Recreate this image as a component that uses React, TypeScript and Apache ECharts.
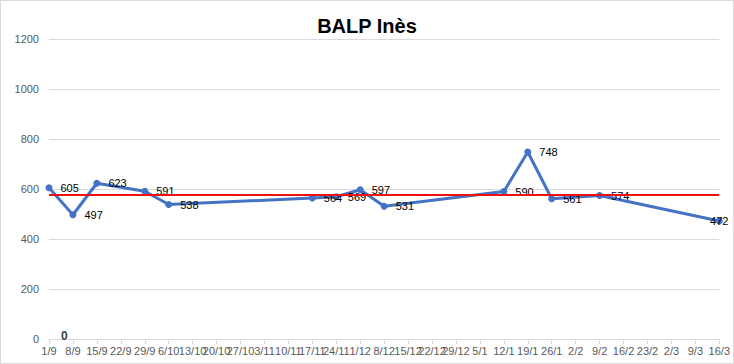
import React, { useEffect, useRef } from "react";
import * as echarts from "echarts";

const categories = ["1/9", "8/9", "15/9", "22/9", "29/9", "6/10", "13/10", "20/10", "27/10", "3/11", "10/11", "17/11", "24/11", "1/12", "8/12", "15/12", "22/12", "29/12", "5/1", "12/1", "19/1", "26/1", "2/2", "9/2", "16/2", "23/2", "2/3", "9/3", "16/3"];
const scores: (number | null)[] = [605, 497, 623, null, 591, 538, null, null, null, null, null, 564, 569, 597, 531, null, null, null, null, 590, 748, 561, null, 574, null, null, null, null, 472];
const zeroPoint = [[0, 0]];
const yTicks = { min: 0, max: 1200, interval: 200 };

export default function App() {
  const ref = useRef<HTMLDivElement>(null);
  useEffect(() => {
    if (!ref.current) return;
    const chart = echarts.init(ref.current, null, { renderer: "svg" });
    const font = "Liberation Sans";
    chart.setOption({
      animation: false,
      backgroundColor: "#ffffff",
      title: {
        text: "BALP Inès",
        left: "center",
        top: 10,
        textStyle: { fontFamily: font, fontSize: 20, fontWeight: "bold", color: "#000" },
      },
      grid: { left: 48, right: 13, top: 38, bottom: 24 },
      xAxis: {
        type: "category",
        data: categories,
        boundaryGap: false,
        axisLine: { lineStyle: { color: "#d9d9d9" } },
        axisTick: { show: true, alignWithLabel: true, lineStyle: { color: "#d9d9d9" } },
        axisLabel: { interval: 0, color: "#595959", fontFamily: font, fontSize: 11, margin: 6 },
        splitLine: { show: false },
      },
      yAxis: {
        type: "value",
        min: yTicks.min,
        max: yTicks.max,
        interval: yTicks.interval,
        axisLine: { show: false },
        axisTick: { show: false },
        axisLabel: {
          color: "#595959",
          fontFamily: font,
          fontSize: 11,
          margin: 10,
          formatter: (v: number) => String(v),
        },
        splitLine: { lineStyle: { color: "#d9d9d9" } },
      },
      series: [
        {
          type: "line",
          data: scores.map((v, i) =>
            i === scores.length - 1 && v !== null
              ? { value: v, label: { position: "inside" } }
              : v
          ),
          connectNulls: true,
          symbol: "circle",
          symbolSize: 7,
          lineStyle: { color: "#4472c4", width: 3 },
          itemStyle: { color: "#4472c4" },
          label: {
            show: true,
            position: "right",
            distance: 8,
            color: "#000",
            fontFamily: font,
            fontSize: 11,
          },
          markLine: {
            silent: true,
            symbol: "none",
            label: { show: false },
            lineStyle: { color: "#ee1111", width: 2, type: "solid" },
            data: [{ type: "average" }],
            z: 5,
          },
          z: 3,
        },
        {
          type: "scatter",
          data: zeroPoint,
          symbolSize: 0,
          label: {
            show: true,
            position: "right",
            distance: 12,
            offset: [0, -3],
            formatter: "0",
            color: "#000",
            fontFamily: font,
            fontSize: 12,
            fontWeight: "bold",
          },
        },
      ],
    });
    return () => chart.dispose();
  }, []);
  return (
    <div
      ref={ref}
      style={{
        position: "fixed",
        left: 0,
        top: 0,
        width: 734,
        height: 364,
        boxSizing: "border-box",
        border: "1px solid #d9d9d9",
      }}
    />
  );
}
